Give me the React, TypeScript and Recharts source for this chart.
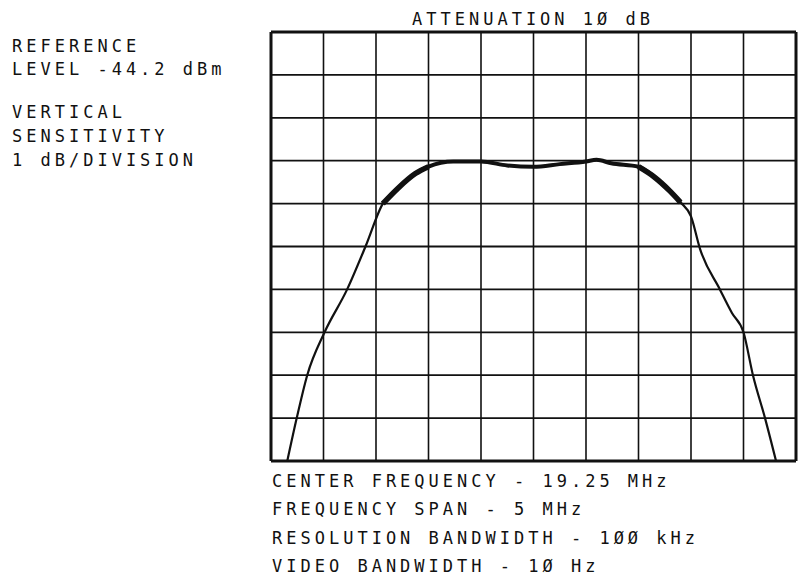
import React from 'react';
import { LineChart, Line, XAxis, YAxis, ReferenceLine } from 'recharts';

// trace, in screen divisions (x: 0..10 across, y: 0..10 up)
const traceX = [0.31, 0.49, 0.69, 1.02, 1.45, 1.8, 2.13, 2.42, 2.75, 3.0, 3.47, 4.0, 4.5, 5.0, 5.5, 6.0, 6.2, 6.48, 7.0, 7.3, 7.6, 7.8, 8.0, 8.17, 8.55, 8.78, 9.0, 9.18, 9.41, 9.62];
const traceY = [0, 1, 2, 3, 4, 5, 6, 6.36, 6.7, 6.86, 6.98, 6.98, 6.89, 6.86, 6.92, 6.98, 7.02, 6.94, 6.86, 6.62, 6.29, 6.03, 5.7, 4.95, 4.0, 3.45, 3.0, 2.0, 1.0, 0];

// the noisy (thick) part of the trace on the passband, and its noisier shoulders
const bandFrom = 2.13;
const bandTo = 7.8;
const shoulderLeftTo = 3.0;
const shoulderRightFrom = 7.0;

const divisions = [0, 1, 2, 3, 4, 5, 6, 7, 8, 9, 10];

const leftNotes = [
  { text: 'REFERENCE', y: 52 },
  { text: 'LEVEL -44.2 dBm', y: 75 },
  { text: 'VERTICAL', y: 118 },
  { text: 'SENSITIVITY', y: 142 },
  { text: '1 dB/DIVISION', y: 166 },
];

const bottomNotes = [
  'CENTER FREQUENCY - 19.25 MHz',
  'FREQUENCY SPAN - 5 MHz',
  'RESOLUTION BANDWIDTH - 1ØØ kHz',
  'VIDEO BANDWIDTH - 1Ø Hz',
];

const title = 'ATTENUATION 1Ø dB';

const data = traceX.map((x, i) => {
  const inBand = x >= bandFrom && x <= bandTo;
  const onShoulder = inBand && (x <= shoulderLeftTo || x >= shoulderRightFrom);
  return {
    x,
    y: traceY[i],
    band: inBand ? traceY[i] : null,
    shoulder: onShoulder ? traceY[i] : null,
  };
});

const W = 799;
const H = 587;
const INK = '#111';

const textStyle: React.CSSProperties = {
  fontFamily: '"DejaVu Sans Mono", monospace',
  fontSize: 17,
  letterSpacing: 4,
  fill: INK,
};

export default function App() {
  return (
    <div style={{ position: 'absolute', left: 0, top: 0, width: W, height: H, background: '#fff' }}>
      <LineChart
        width={W}
        height={H}
        data={data}
        margin={{ top: 32, right: 3, bottom: 126, left: 271 }}
      >
        <XAxis dataKey="x" type="number" domain={[0, 10]} ticks={divisions} hide />
        <YAxis type="number" domain={[0, 10]} ticks={divisions} hide />
        {divisions.map((d) => (
          <ReferenceLine
            key={'v' + d}
            x={d}
            stroke={INK}
            strokeWidth={d === 0 || d === 10 ? 3 : 1.6}
          />
        ))}
        {divisions.map((d) => (
          <ReferenceLine
            key={'h' + d}
            y={d}
            stroke={INK}
            strokeWidth={d === 0 || d === 10 ? 3 : 1.8}
          />
        ))}
        <Line
          type="monotoneX"
          dataKey="y"
          stroke={INK}
          strokeWidth={2.2}
          dot={false}
          isAnimationActive={false}
        />
        <Line
          type="monotoneX"
          dataKey="band"
          stroke={INK}
          strokeWidth={4}
          dot={false}
          connectNulls={false}
          isAnimationActive={false}
        />
        <Line
          type="monotoneX"
          dataKey="shoulder"
          stroke={INK}
          strokeWidth={5.5}
          dot={false}
          connectNulls={false}
          isAnimationActive={false}
        />
      </LineChart>
      <svg width={W} height={H} style={{ position: 'absolute', left: 0, top: 0, pointerEvents: 'none' }}>
        <text x={533} y={25} textAnchor="middle" style={textStyle}>{title}</text>
        {leftNotes.map((n) => (
          <text key={n.text} x={12} y={n.y} style={textStyle}>{n.text}</text>
        ))}
        {bottomNotes.map((t, i) => (
          <text key={t} x={272} y={487 + i * 28.3} style={textStyle}>{t}</text>
        ))}
      </svg>
    </div>
  );
}
